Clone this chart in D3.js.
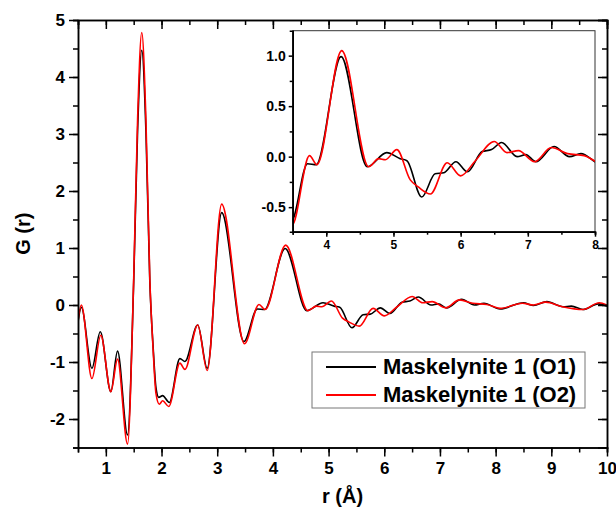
<!DOCTYPE html>
<html>
<head>
<meta charset="utf-8">
<script src="https://cdn.jsdelivr.net/npm/d3@7"></script>
<style>
  body { margin: 0; background: #fff; }
  svg { font-family: "Liberation Sans", Arial, sans-serif; font-weight: bold; }
  .domain { stroke: #000; stroke-width: 1.5; }
  .tick line { stroke: #000; stroke-width: 1.5; }
</style>
</head>
<body>
<svg id="chart" width="616" height="508"></svg>
<script>
// series O1 (black)
const r1 = [0.50, 0.56, 0.75, 0.90, 1.09, 1.21, 1.39, 1.50, 1.57, 1.645, 1.72, 1.79, 1.85, 1.90, 1.95, 2.02, 2.14,
  2.33, 2.42, 2.65, 2.82, 3.08, 3.48, 3.72, 3.85, 4.22, 4.61, 4.90, 5.10, 5.20, 5.42, 5.62, 5.75, 5.93, 6.10,
  6.32, 6.46, 6.61, 6.84, 6.97, 7.12, 7.39, 7.62, 7.79, 8.08, 8.50, 8.68, 8.92, 9.21, 9.36, 9.57, 9.84, 10.0];
const g1 = [-0.30, -0.04, -1.11, -0.47, -1.52, -0.81, -2.28, 0.40, 3.05, 4.47, 3.05, 0.40, -0.75, -1.45, -1.62, -1.59, -1.71,
  -0.94, -0.99, -0.35, -1.11, 1.62, -0.64, -0.07, -0.08, 0.99, -0.10, 0.04, -0.02, -0.04, -0.40, -0.17, -0.16, -0.05, -0.15,
  0.05, 0.07, 0.14, 0.00, 0.02, -0.05, 0.10, 0.00, 0.03, -0.07, 0.04, -0.01, 0.06, -0.03, -0.02, -0.08, 0.02, -0.02];

// series O2 (red)
const r2 = [0.50, 0.56, 0.75, 0.91, 1.09, 1.21, 1.39, 1.50, 1.57, 1.645, 1.72, 1.79, 1.85, 1.90, 1.96, 2.02, 2.13,
  2.33, 2.42, 2.65, 2.82, 3.08, 3.49, 3.75, 3.86, 4.23, 4.63, 4.78, 4.88, 5.05, 5.25, 5.37, 5.55, 5.80, 6.00,
  6.22, 6.50, 6.69, 6.86, 7.10, 7.35, 7.59, 7.84, 8.08, 8.48, 8.68, 8.90, 9.20, 9.57, 9.86, 10.0];
const g2 = [-0.28, 0.00, -1.29, -0.53, -1.52, -0.95, -2.44, 0.45, 3.25, 4.78, 3.25, 0.45, -0.80, -1.55, -1.74, -1.68, -1.78,
  -1.02, -1.13, -0.35, -1.15, 1.77, -0.68, 0.01, -0.08, 1.05, -0.10, -0.02, -0.03, 0.07, -0.23, -0.30, -0.37, -0.06, -0.19,
  -0.04, 0.15, 0.04, 0.06, -0.05, 0.09, 0.03, 0.01, -0.06, 0.03, 0.00, 0.05, -0.03, -0.08, 0.04, 0.00];

const seriesNames = ["Maskelynite 1 (O1)", "Maskelynite 1 (O2)"];
const colors = ["#000000", "#ff0000"];

const xTicks = [1, 2, 3, 4, 5, 6, 7, 8, 9, 10];
const yTicks = [-2, -1, 0, 1, 2, 3, 4, 5];
const insetXTicks = [4, 5, 6, 7, 8];
const insetYTicks = [-0.5, 0.0, 0.5, 1.0];

const series = [
  r1.map((r, i) => [r, g1[i]]),
  r2.map((r, i) => [r, g2[i]])
];

const svg = d3.select("#chart");

// plain hyphen minus, like the original
const fmtInt = d => String(d);
const fmt1 = d => d.toFixed(1);

// main plot
const L = 78, R = 607, T = 20, B = 447.5;
const x = d3.scaleLinear().domain([0.5, 10]).range([L, R]);
const y = d3.scaleLinear().domain([-2.5, 5]).range([B, T]);

svg.append("clipPath").attr("id", "clipMain")
  .append("rect").attr("x", L).attr("y", T).attr("width", R - L).attr("height", B - T);

const line = d3.line().x(d => x(d[0])).y(d => y(d[1])).curve(d3.curveMonotoneX);

svg.append("g").attr("clip-path", "url(#clipMain)")
  .selectAll("path").data(series).enter().append("path")
  .attr("d", line)
  .attr("fill", "none")
  .attr("stroke", (d, i) => colors[i])
  .attr("stroke-width", 1.6);

const halfX = d3.range(0.5, 10.01, 0.5);
const halfY = d3.range(-2.5, 5.01, 0.5);

function minor(axis, vals) {
  return axis.tickValues(vals).tickFormat("").tickSizeOuter(0);
}
const labelStyle = size => g => g.selectAll("text")
  .attr("font-size", size).attr("font-weight", "bold").attr("font-family", "Liberation Sans, Arial");

// bottom
svg.append("g").attr("transform", "translate(0," + B + ")")
  .call(minor(d3.axisBottom(x), halfX).tickSize(5));
svg.append("g").attr("transform", "translate(0," + B + ")")
  .call(d3.axisBottom(x).tickValues(xTicks).tickFormat(fmtInt).tickSize(9).tickSizeOuter(0).tickPadding(5))
  .call(labelStyle(17));
// top (inward)
svg.append("g").attr("transform", "translate(0," + T + ")")
  .call(minor(d3.axisTop(x), halfX).tickSize(-5));
svg.append("g").attr("transform", "translate(0," + T + ")")
  .call(minor(d3.axisTop(x), xTicks).tickSize(-9));
// left
svg.append("g").attr("transform", "translate(" + L + ",0)")
  .call(minor(d3.axisLeft(y), halfY).tickSize(5));
svg.append("g").attr("transform", "translate(" + L + ",0)")
  .call(d3.axisLeft(y).tickValues(yTicks).tickFormat(fmtInt).tickSize(9).tickSizeOuter(0).tickPadding(4))
  .call(labelStyle(17));
// right (inward)
svg.append("g").attr("transform", "translate(" + R + ",0)")
  .call(minor(d3.axisRight(y), halfY).tickSize(-5));
svg.append("g").attr("transform", "translate(" + R + ",0)")
  .call(minor(d3.axisRight(y), yTicks).tickSize(-9));

// axis titles
svg.append("text").attr("x", (L + R) / 2).attr("y", 503)
  .attr("text-anchor", "middle").attr("font-size", 20).text("r (Å)");
svg.append("text").attr("transform", "translate(30," + (T + B) / 2 + ") rotate(-90)")
  .attr("text-anchor", "middle").attr("font-size", 20).text("G (r)");

// inset
const iL = 292.7, iR = 595, iT = 30.7, iB = 231.7;
const xi = d3.scaleLinear().domain([3.5, 8]).range([iL, iR]);
const yi = d3.scaleLinear().domain([-0.743, 1.247]).range([iB, iT]);

svg.append("rect").attr("x", iL).attr("y", iT).attr("width", iR - iL).attr("height", iB - iT)
  .attr("fill", "#fff").attr("stroke", "#333").attr("stroke-width", 1);

svg.append("clipPath").attr("id", "clipInset")
  .append("rect").attr("x", iL).attr("y", iT).attr("width", iR - iL).attr("height", iB - iT);

const lineI = d3.line().x(d => xi(d[0])).y(d => yi(d[1])).curve(d3.curveMonotoneX);
svg.append("g").attr("clip-path", "url(#clipInset)")
  .selectAll("path").data(series).enter().append("path")
  .attr("d", lineI)
  .attr("fill", "none")
  .attr("stroke", (d, i) => colors[i])
  .attr("stroke-width", 1.6);

const insetAxisStyle = g => {
  g.select(".domain").attr("stroke-width", 1).attr("stroke", "#333");
  g.selectAll(".tick line").attr("stroke-width", 1).attr("stroke", "#333");
};

svg.append("g").attr("transform", "translate(0," + iB + ")")
  .call(minor(d3.axisBottom(xi), d3.range(3.5, 8.01, 0.5)).tickSize(3))
  .call(insetAxisStyle);
svg.append("g").attr("transform", "translate(0," + iB + ")")
  .call(d3.axisBottom(xi).tickValues(insetXTicks).tickFormat(fmtInt).tickSize(5).tickSizeOuter(0).tickPadding(4))
  .call(insetAxisStyle)
  .call(labelStyle(12));
svg.append("g").attr("transform", "translate(" + iL + ",0)")
  .call(minor(d3.axisLeft(yi), [-0.25, 0.25, 0.75]).tickSize(3))
  .call(insetAxisStyle);
svg.append("g").attr("transform", "translate(" + iL + ",0)")
  .call(d3.axisLeft(yi).tickValues(insetYTicks).tickSize(4).tickSizeOuter(0).tickPadding(3).tickFormat(fmt1))
  .call(insetAxisStyle)
  .call(labelStyle(14));

// legend
const lg = svg.append("g");
lg.append("rect").attr("x", 312).attr("y", 352).attr("width", 273).attr("height", 56)
  .attr("fill", "#fff").attr("stroke", "#777").attr("stroke-width", 1);
seriesNames.forEach((name, i) => {
  const yy = 367 + i * 28;
  lg.append("line").attr("x1", 326).attr("x2", 376).attr("y1", yy).attr("y2", yy)
    .attr("stroke", colors[i]).attr("stroke-width", 1.8);
  lg.append("text").attr("x", 383).attr("y", yy + 7).attr("font-size", 22).text(name);
});
</script>
</body>
</html>
